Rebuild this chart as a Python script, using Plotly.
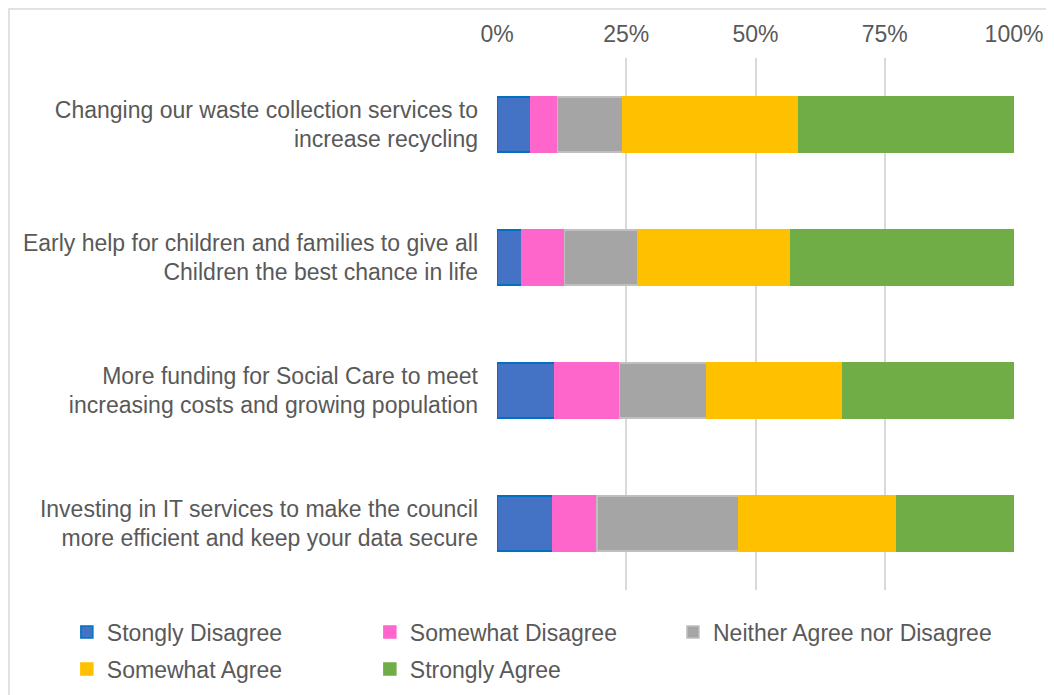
import plotly.graph_objects as go

categories = [
    "Changing our waste collection services to<br>increase recycling",
    "Early help for children and families to give all<br>Children the best chance in life",
    "More funding for Social Care to meet<br>increasing costs and growing population",
    "Investing in IT services to make the council<br>more efficient and keep your data secure",
]
series_names = ["Stongly Disagree", "Somewhat Disagree", "Neither Agree nor Disagree",
                "Somewhat Agree", "Strongly Agree"]
strongly_disagree = [6.5, 4.8, 11.1, 10.7]
somewhat_disagree = [5.2, 8.3, 12.6, 8.6]
neither = [12.6, 14.1, 16.9, 27.5]
somewhat_agree = [34.0, 29.7, 26.3, 30.5]
strongly_agree = [41.7, 43.1, 33.1, 22.7]
tick_vals = [0, 25, 50, 75, 100]
tick_text = ["0%", "25%", "50%", "75%", "100%"]

values = [strongly_disagree, somewhat_disagree, neither, somewhat_agree, strongly_agree]
fills = ["#4472C4", "#FF66CC", "#A5A5A5", "#FFC000", "#70AD47"]
outlines = ["#0070C0", "#FF66CC", "#BFBFBF", "#FFC000", "#70AD47"]
legend_ids = ["legend", "legend", "legend3", "legend2", "legend2"]

fig = go.Figure()
for name, vals, fc, lc, lg in zip(series_names, values, fills, outlines, legend_ids):
    fig.add_trace(go.Bar(
        y=categories, x=vals, name=name, orientation="h",
        marker=dict(color=fc, line=dict(color=lc, width=1.5)),
        hoverinfo="x+name", legend=lg,
    ))

font_color = "#595959"
FS = 23
legend_common = dict(orientation="h", xanchor="left", yanchor="middle",
                     entrywidth=258, entrywidthmode="pixels", traceorder="normal",
                     font=dict(size=FS, color=font_color), itemwidth=30,
                     bgcolor="rgba(0,0,0,0)")
legend3_opts = dict(orientation="h", xanchor="left", yanchor="middle",
                    traceorder="normal", font=dict(size=FS, color=font_color),
                    itemwidth=30, bgcolor="rgba(0,0,0,0)")
fig.update_layout(
    width=1054, height=695,
    barmode="stack", bargap=0.59,
    paper_bgcolor="white", plot_bgcolor="white",
    font=dict(family="Liberation Sans, Arial, sans-serif", size=FS, color=font_color),
    margin=dict(l=489, r=48, t=50, b=113),
    xaxis=dict(range=[0, 100], side="top", tickvals=tick_vals, ticktext=tick_text,
               showgrid=True, gridcolor="#D9D9D9", gridwidth=1.5, zeroline=False,
               showline=False, ticks="", ticklabelstandoff=10,
               tickfont=dict(size=FS, color=font_color)),
    yaxis=dict(categoryorder="array", categoryarray=categories[::-1],
               showgrid=False, showline=False, ticks="", ticklabelstandoff=18,
               tickfont=dict(size=FS, color=font_color)),
    legend=dict(x=-0.832, y=-0.079, **legend_common),
    legend2=dict(x=-0.832, y=-0.1485, **legend_common),
    legend3=dict(x=0.3404, y=-0.079, **legend3_opts),
    shapes=[dict(type="rect", xref="paper", yref="paper",
                 x0=-0.944, x1=1.0696, y0=-0.3, y1=1.092,
                 line=dict(color="#D9D9D9", width=1.5), fillcolor="rgba(0,0,0,0)",
                 layer="below")],
    showlegend=True,
)

fig.write_html("out.html")
